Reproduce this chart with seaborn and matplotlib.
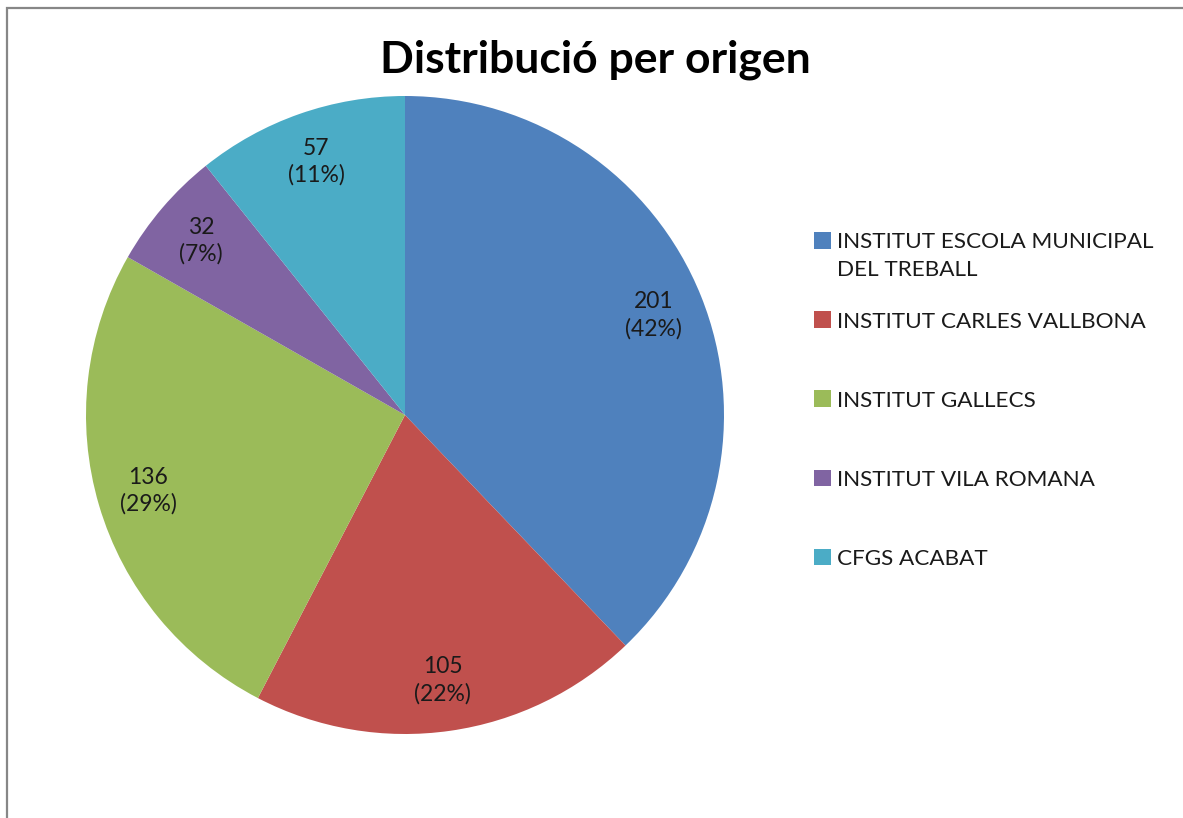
import matplotlib.pyplot as plt
import matplotlib.patches as mpatches
import seaborn as sns

sns.set_theme(style="white")
plt.rcParams['font.family'] = ['Lato', 'DejaVu Sans']

TITLE = 'Distribució per origen'
categories = ['INSTITUT ESCOLA MUNICIPAL', 'INSTITUT CARLES VALLBONA',
              'INSTITUT GALLECS', 'INSTITUT VILA ROMANA', 'CFGS ACABAT']
first_label_extra = 'DEL TREBALL'  # second line of the first legend entry
counts = [201, 105, 136, 32, 57]
pct_labels = ['42%', '22%', '29%', '7%', '11%']
colors = ['#4F81BD', '#C0504D', '#9BBB59', '#8064A2', '#4BACC6']

W, H = 1183, 818
TXT = '#1a1a1a'
FS = 16.5
LEG_FS = 16.2
fig = plt.figure(figsize=(W / 100, H / 100), dpi=100)

# chart-area border (gray), runs off the right/bottom edge
fig.patches.append(mpatches.Rectangle((7 / W, -0.1), 1.2, 1 - 8 / H + 0.1,
                                      transform=fig.transFigure, fill=False,
                                      edgecolor='#878787', linewidth=1.6))

cx, cy, r = 405, 415, 319
ax = fig.add_axes([(cx - r) / W, 1 - (cy + r) / H, 2 * r / W, 2 * r / H])
labels = [f'{c}\n({p})' for c, p in zip(counts, pct_labels)]
wedges, texts = ax.pie(counts, labels=labels, colors=sns.color_palette(colors),
                       startangle=90, counterclock=False, labeldistance=0.84,
                       wedgeprops=dict(linewidth=0),
                       textprops=dict(fontsize=FS, color=TXT, linespacing=1.3))
for t in texts:
    t.set_horizontalalignment('center')
    t.set_verticalalignment('center')
ax.set_xlim(-1, 1)
ax.set_ylim(-1, 1)

fig.text(595 / W, 1 - 60 / H, TITLE, ha='center', va='center',
         fontsize=32, fontweight='bold', color='black')

leg = fig.legend(wedges, categories, loc='upper left',
                 bbox_to_anchor=(803 / W, 1 - 221 / H), frameon=False,
                 fontsize=LEG_FS, handlelength=0.76, handleheight=0.76,
                 handletextpad=0.25, labelspacing=2.62, borderpad=0)
for t in leg.get_texts():
    t.set_color(TXT)

# wrapped second line of the first entry, placed under its first line
fig.canvas.draw()
bb = leg.get_texts()[0].get_window_extent()
fig.text(bb.x0 / W, (bb.y0 - 28) / H, first_label_extra, ha='left', va='bottom',
         fontsize=LEG_FS, color=TXT)

fig.savefig('out.png', dpi=100, facecolor='white')
